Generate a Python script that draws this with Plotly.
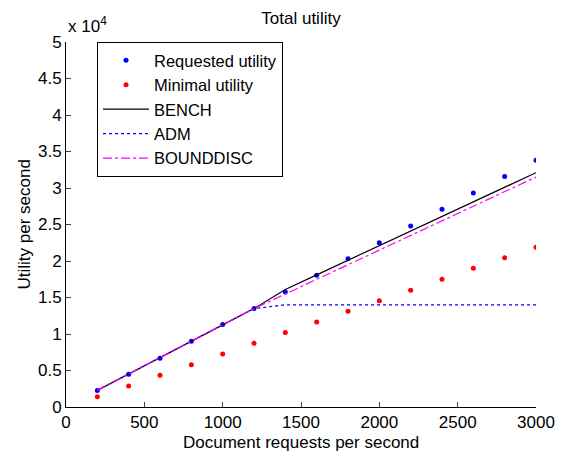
import plotly.graph_objects as go

x_vals = [200, 400, 600, 800, 1000, 1200, 1400, 1600, 1800, 2000, 2200, 2400, 2600, 2800, 3000]
requested = [2250, 4480, 6670, 9000, 11290, 13480, 15750, 18040, 20300, 22500, 24800, 27080, 29300, 31560, 33800]
minimal = [1420, 2880, 4340, 5800, 7260, 8730, 10190, 11640, 13110, 14570, 16000, 17500, 19000, 20460, 21880]
bench = [2280, 4500, 6700, 9000, 11250, 13480, 16100, 18100, 20100, 22100, 24100, 26100, 28100, 30100, 32100]
adm = [2280, 4500, 6700, 9000, 11250, 13480, 14000, 14000, 14000, 14000, 14000, 14000, 14000, 14000, 14000]
bounddisc = [2280, 4500, 6700, 9000, 11250, 13480, 15500, 17500, 19500, 21500, 23500, 25500, 27500, 29500, 31500]

x_ticks = [0, 500, 1000, 1500, 2000, 2500, 3000]
y_ticks = [0, 5000, 10000, 15000, 20000, 25000, 30000, 35000, 40000, 45000, 50000]
y_ticktext = ["0", "0.5", "1", "1.5", "2", "2.5", "3", "3.5", "4", "4.5", "5"]

FONT = "Liberation Sans, Arial, sans-serif"

fig = go.Figure()
fig.add_trace(go.Scatter(x=x_vals, y=requested, mode="markers", name="Requested utility",
                         marker=dict(color="#0000ff", size=5)))
fig.add_trace(go.Scatter(x=x_vals, y=minimal, mode="markers", name="Minimal utility",
                         marker=dict(color="#ff0000", size=5)))
fig.add_trace(go.Scatter(x=x_vals, y=bench, mode="lines", name="BENCH",
                         line=dict(color="black", width=1.2)))
fig.add_trace(go.Scatter(x=x_vals, y=adm, mode="lines", name="ADM",
                         line=dict(color="#0000ff", width=1.2, dash="dot")))
fig.add_trace(go.Scatter(x=x_vals, y=bounddisc, mode="lines", name="BOUNDDISC",
                         line=dict(color="#ff00ff", width=1.2, dash="dashdot")))

W, H = 556, 445
fig.update_layout(
    width=W, height=H,
    margin=dict(l=58, r=28, t=34, b=46, autoexpand=False),
    paper_bgcolor="white", plot_bgcolor="white",
    font=dict(family=FONT, size=17, color="black"),
    title=dict(text="Total utility", x=0.5, xref="paper", xanchor="center", y=1 - 10 / H,
               yref="container", yanchor="middle", font=dict(size=17, family=FONT)),
    showlegend=True,
    legend=dict(x=0.066, y=1.0, xanchor="left", yanchor="top",
                bgcolor="white", bordercolor="black", borderwidth=1,
                font=dict(size=16.5, family=FONT), tracegroupgap=0, itemwidth=46),
    xaxis=dict(range=[0, 3000], tickvals=x_ticks, ticks="inside", ticklen=5,
               showline=True, linecolor="black", linewidth=1, showgrid=False, zeroline=False,
               automargin=False, tickfont=dict(size=17)),
    yaxis=dict(range=[0, 50000], tickvals=y_ticks, ticktext=y_ticktext, ticks="inside", ticklen=5,
               showline=True, linecolor="black", linewidth=1, showgrid=False, zeroline=False,
               automargin=False, tickfont=dict(size=17)),
)
fig.add_annotation(text="Document requests per second", xref="paper", yref="paper",
                   x=0.5, y=0, xanchor="center", yanchor="middle", yshift=-35,
                   showarrow=False, font=dict(size=17, family=FONT))
fig.add_annotation(text="Utility per second", xref="paper", yref="paper",
                   x=0, y=0.5, xanchor="center", yanchor="middle", xshift=-42, textangle=-90,
                   showarrow=False, font=dict(size=17, family=FONT))
fig.add_annotation(text="x 10<sup>4</sup>", xref="paper", yref="paper", x=0.0, y=1.0,
                   xanchor="left", yanchor="bottom", yshift=4, showarrow=False,
                   font=dict(size=17, family=FONT))

fig.write_html("out.html")
